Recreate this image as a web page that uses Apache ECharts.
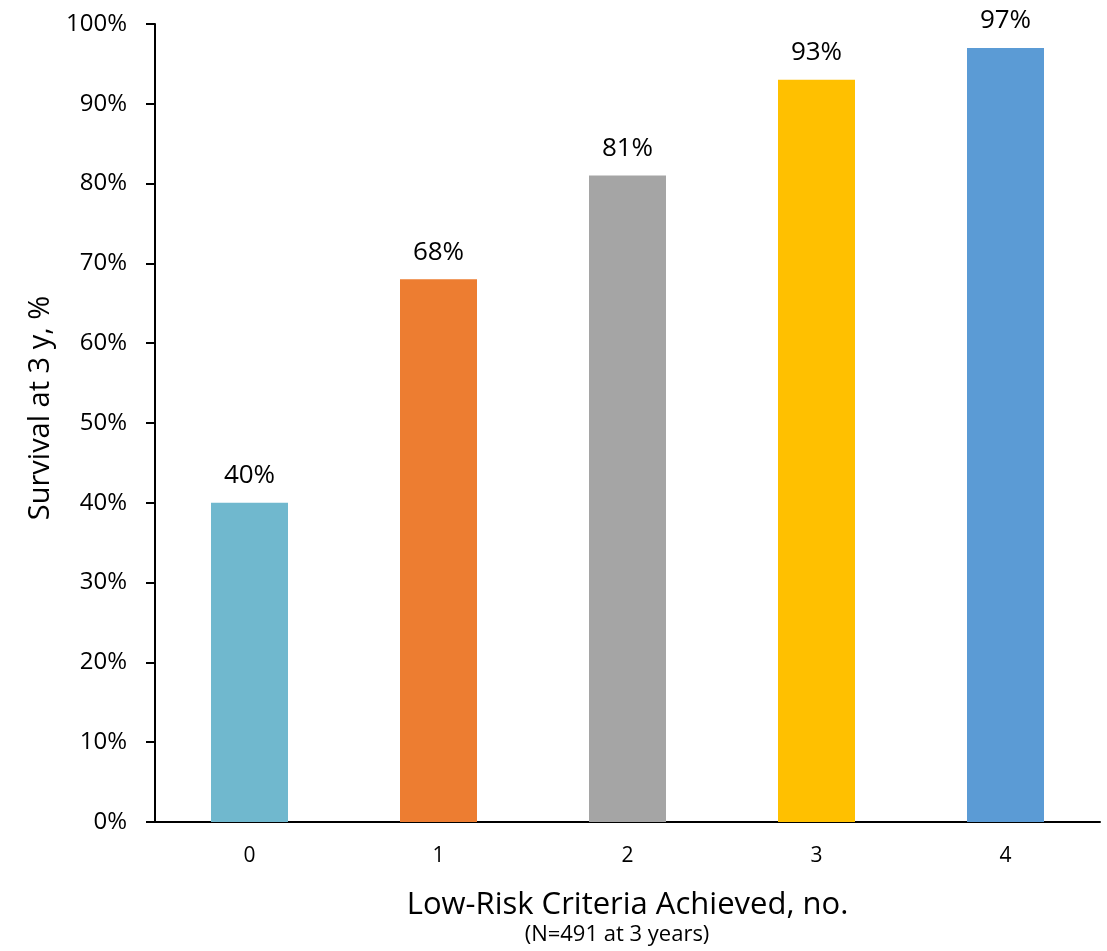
<!DOCTYPE html>
<html>
<head>
<meta charset="utf-8">
<script src="https://cdn.jsdelivr.net/npm/echarts@6/dist/echarts.min.js"></script>
<style>
  html, body { margin: 0; padding: 0; background: #fff; }
  #chart { width: 1107px; height: 951px; }
</style>
</head>
<body>
<div id="chart"></div>
<script>
// Number of low-risk criteria achieved
const categories = ['0', '1', '2', '3', '4'];
// Survival at 3 years (%)
const survival = [40, 68, 81, 93, 97];
const barColors = ['#70B8CE', '#ED7D31', '#A5A5A5', '#FFC000', '#5B9BD5'];
const yTicks = [0, 10, 20, 30, 40, 50, 60, 70, 80, 90, 100];

const FONT = '"Open Sans", "Noto Sans", sans-serif';
const chart = echarts.init(document.getElementById('chart'));

chart.setOption({
  animation: false,
  backgroundColor: '#fff',
  textStyle: { fontFamily: FONT, color: '#000' },
  grid: { left: 155, right: 7, top: 24, bottom: 129 },
  xAxis: {
    type: 'category',
    data: categories,
    axisLine: { lineStyle: { color: '#000', width: 2 } },
    axisTick: { show: false },
    axisLabel: { fontSize: 21, color: '#000', margin: 24, fontFamily: FONT },
    name: 'Low-Risk Criteria Achieved, no.',
    nameLocation: 'middle',
    nameGap: 68,
    nameTextStyle: { fontSize: 31, color: '#000', fontFamily: FONT }
  },
  yAxis: {
    type: 'value',
    min: yTicks[0],
    max: yTicks[yTicks.length - 1],
    interval: 10,
    splitLine: { show: false },
    axisLine: { show: true, lineStyle: { color: '#000', width: 2 } },
    axisTick: { show: true, length: 9, lineStyle: { color: '#000', width: 2 } },
    axisLabel: {
      fontSize: 24, color: '#000', margin: 28, fontFamily: FONT,
      formatter: v => v + '%'
    },
    name: 'Survival at 3 y, %',
    nameLocation: 'middle',
    nameGap: 100,
    nameRotate: 90,
    nameTextStyle: { fontSize: 29, color: '#000', fontFamily: FONT, padding: [0, 0, 0, 30] }
  },
  series: [{
    type: 'bar',
    barWidth: 77,
    data: survival.map((v, i) => ({ value: v, itemStyle: { color: barColors[i] } })),
    label: {
      show: true,
      position: 'top',
      distance: 14,
      fontSize: 26,
      color: '#000',
      fontFamily: FONT,
      formatter: p => p.value + '%'
    }
  }],
  graphic: [{
    type: 'text',
    x: 617,
    y: 924,
    style: {
      text: '(N=491 at 3 years)',
      textAlign: 'center',
      fontSize: 22,
      fill: '#000',
      fontFamily: FONT
    }
  }]
});
</script>
</body>
</html>
